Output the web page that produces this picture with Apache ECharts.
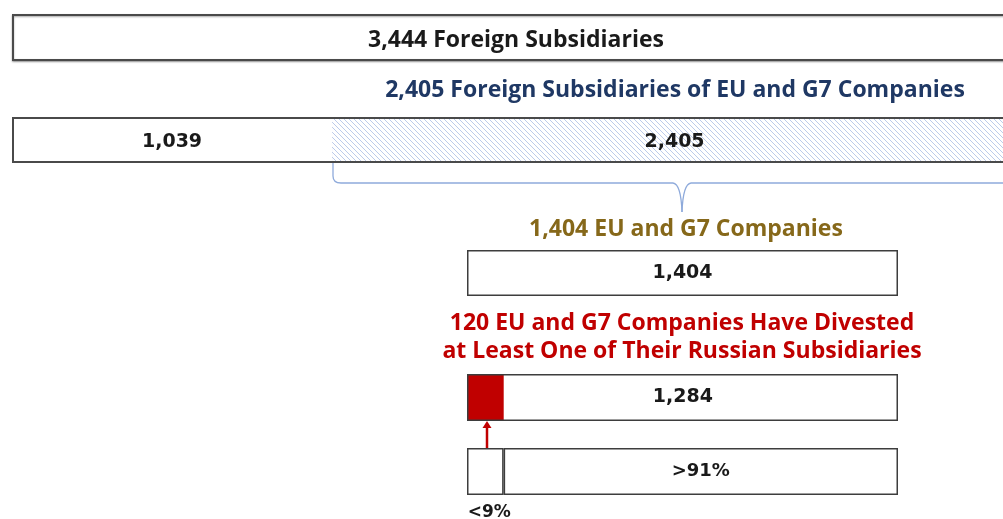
<!DOCTYPE html>
<html>
<head>
<meta charset="utf-8">
<script src="https://cdn.jsdelivr.net/npm/echarts@6/dist/echarts.min.js"></script>
<style>
  html, body { margin: 0; padding: 0; background: #fff; }
  #main { width: 1003px; height: 519px; }
</style>
</head>
<body>
<div id="main"></div>
<script>
// data
const totalSubs = 3444;
const splitNames = ['Other', 'EU and G7'];
const splitValues = [1039, 2405];
const euG7Companies = 1404;
const divestNames = ['Divested', 'Not divested'];
const divestValues = [120, 1284];
const shareValues = [8.5, 91.5];
const shareLabels = ['<9%', '>91%'];

const fmt = v => v.toLocaleString('en-US');
const numFont = { fontFamily: 'DejaVu Sans', fontWeight: 'bold', fontSize: 19, color: '#1a1a1a' };
const headFont = 'Open Sans';

// light blue diagonal hatch
function hatch () {
  const c = document.createElement('canvas');
  c.width = 5; c.height = 5;
  const ctx = c.getContext('2d');
  ctx.fillStyle = '#fff';
  ctx.fillRect(0, 0, 5, 5);
  ctx.strokeStyle = '#bccbea';
  ctx.lineWidth = 1;
  [-5, 0, 5].forEach(o => {
    ctx.beginPath();
    ctx.moveTo(o, 0);
    ctx.lineTo(o + 5, 5);
    ctx.stroke();
  });
  return c;
}

// the two top bars run past the right edge of the picture:
// the grid stops at the edge, the axis max keeps the bar's full length
const topVisible = 991;
const topFull = [1004, 1061];
const grids = [
  { left: 12, top: 14, width: topVisible, height: 47 },
  { left: 12, top: 117, width: topVisible, height: 46 },
  { left: 467, top: 250, width: 431, height: 46 },
  { left: 467, top: 374, width: 431, height: 47 },
  { left: 467, top: 448, width: 431, height: 47 }
];
const maxes = [
  totalSubs * topVisible / topFull[0],
  totalSubs * topVisible / topFull[1],
  euG7Companies, euG7Companies, 100
];

const chart = echarts.init(document.getElementById('main'));

const box = { color: '#fff', borderColor: '#3d3d3d', borderWidth: 1.5 };
const braceStyle = { stroke: '#8eaadb', lineWidth: 1.3, fill: null };

function headText (x, y, text, fill, size) {
  return { type: 'text', x: x, y: y, z: 10, style: { text: text, fill: fill,
    font: 'bold ' + size + 'px "' + headFont + '"', align: 'center', verticalAlign: 'middle' } };
}

const option = {
  animation: false,
  grid: grids,
  xAxis: grids.map((g, i) => ({ type: 'value', gridIndex: i, min: 0, max: maxes[i], show: false })),
  yAxis: grids.map((g, i) => ({ type: 'category', gridIndex: i, data: ['row'], show: false })),
  series: [
    {
      type: 'bar', xAxisIndex: 0, yAxisIndex: 0, barWidth: '100%', clip: false,
      data: [totalSubs],
      itemStyle: { color: '#fff', borderColor: '#4a4a4a', borderWidth: 2, shadowColor: 'rgba(0,0,0,0.35)', shadowBlur: 2, shadowOffsetY: 1 },
      label: { show: true, position: 'inside', offset: [2, 3], formatter: p => fmt(p.value) + ' Foreign Subsidiaries',
        fontFamily: headFont, fontWeight: 'bold', fontSize: 23, color: '#1a1a1a' }
    },
    {
      name: splitNames[0], type: 'bar', xAxisIndex: 1, yAxisIndex: 1, stack: 'split', barWidth: '100%', clip: false,
      data: [splitValues[0]],
      itemStyle: { color: '#fff' },
      label: Object.assign({ show: true, position: 'inside', offset: [0, 2], formatter: p => fmt(p.value) }, numFont)
    },
    {
      name: splitNames[1], type: 'bar', xAxisIndex: 1, yAxisIndex: 1, stack: 'split', barWidth: '100%', clip: false,
      data: [splitValues[1]],
      itemStyle: { color: { image: hatch(), repeat: 'repeat' } },
      label: Object.assign({ show: true, position: 'inside', offset: [-28, 2], formatter: p => fmt(p.value) }, numFont)
    },
    {
      // outline round the split bar
      type: 'bar', xAxisIndex: 1, yAxisIndex: 1, barWidth: '100%', barGap: '-100%', z: 3, clip: false,
      data: [splitValues[0] + splitValues[1]],
      itemStyle: { color: 'rgba(0,0,0,0)', borderColor: '#4a4a4a', borderWidth: 2 },
      silent: true
    },
    {
      type: 'bar', xAxisIndex: 2, yAxisIndex: 2, barWidth: '100%',
      data: [euG7Companies],
      itemStyle: box,
      label: Object.assign({ show: true, position: 'inside', formatter: p => fmt(p.value) }, numFont)
    },
    {
      name: divestNames[0], type: 'bar', xAxisIndex: 3, yAxisIndex: 3, stack: 'div', barWidth: '100%',
      data: [divestValues[0]],
      itemStyle: { color: '#c00000' }
    },
    {
      name: divestNames[1], type: 'bar', xAxisIndex: 3, yAxisIndex: 3, stack: 'div', barWidth: '100%',
      data: [divestValues[1]],
      itemStyle: { color: '#fff' },
      label: Object.assign({ show: true, position: 'inside', offset: [-18, 0], formatter: p => fmt(p.value) }, numFont)
    },
    {
      // outline round the divested bar
      type: 'bar', xAxisIndex: 3, yAxisIndex: 3, barWidth: '100%', barGap: '-100%', z: 3,
      data: [divestValues[0] + divestValues[1]],
      itemStyle: { color: 'rgba(0,0,0,0)', borderColor: '#3d3d3d', borderWidth: 1.5 },
      silent: true
    },
    {
      type: 'bar', xAxisIndex: 4, yAxisIndex: 4, stack: 'share', barWidth: '100%',
      data: [shareValues[0]],
      itemStyle: box,
      label: Object.assign({ show: true, position: 'bottom', distance: 9, offset: [4, 0], formatter: () => shareLabels[0] }, numFont, { fontSize: 17 })
    },
    {
      type: 'bar', xAxisIndex: 4, yAxisIndex: 4, stack: 'share', barWidth: '100%',
      data: [shareValues[1]],
      itemStyle: box,
      label: Object.assign({ show: true, position: 'inside', formatter: () => shareLabels[1] }, numFont, { fontSize: 18 })
    }
  ],
  graphic: [
    headText(675, 90, fmt(splitValues[1]) + ' Foreign Subsidiaries of EU and G7 Companies', '#1f3864', 23),
    // brace under the EU and G7 part
    { type: 'line', shape: { x1: 333, y1: 147, x2: 333, y2: 176 }, style: braceStyle },
    { type: 'bezierCurve', shape: { x1: 333, y1: 176, cpx1: 333, cpy1: 183, x2: 341, y2: 183 }, style: braceStyle },
    { type: 'line', shape: { x1: 341, y1: 183, x2: 673, y2: 183 }, style: braceStyle },
    { type: 'bezierCurve', shape: { x1: 673, y1: 183, cpx1: 681, cpy1: 184, x2: 682, y2: 212 }, style: braceStyle },
    { type: 'bezierCurve', shape: { x1: 682, y1: 212, cpx1: 683, cpy1: 184, x2: 691, y2: 183 }, style: braceStyle },
    { type: 'line', shape: { x1: 691, y1: 183, x2: 1010, y2: 183 }, style: braceStyle },
    headText(686, 229, fmt(euG7Companies) + ' EU and G7 Companies', '#86681a', 23),
    headText(682, 323, divestValues[0] + ' EU and G7 Companies Have Divested', '#c00000', 23),
    headText(682, 351, 'at Least One of Their Russian Subsidiaries', '#c00000', 23),
    // arrow from the <9% share up to the divested block
    { type: 'line', shape: { x1: 487, y1: 448, x2: 487, y2: 426 }, style: { stroke: '#c00000', lineWidth: 2.5 } },
    { type: 'polygon', shape: { points: [[482.5, 428], [491.5, 428], [487, 421]] }, style: { fill: '#c00000' } }
  ]
};

chart.setOption(option);
</script>
</body>
</html>
